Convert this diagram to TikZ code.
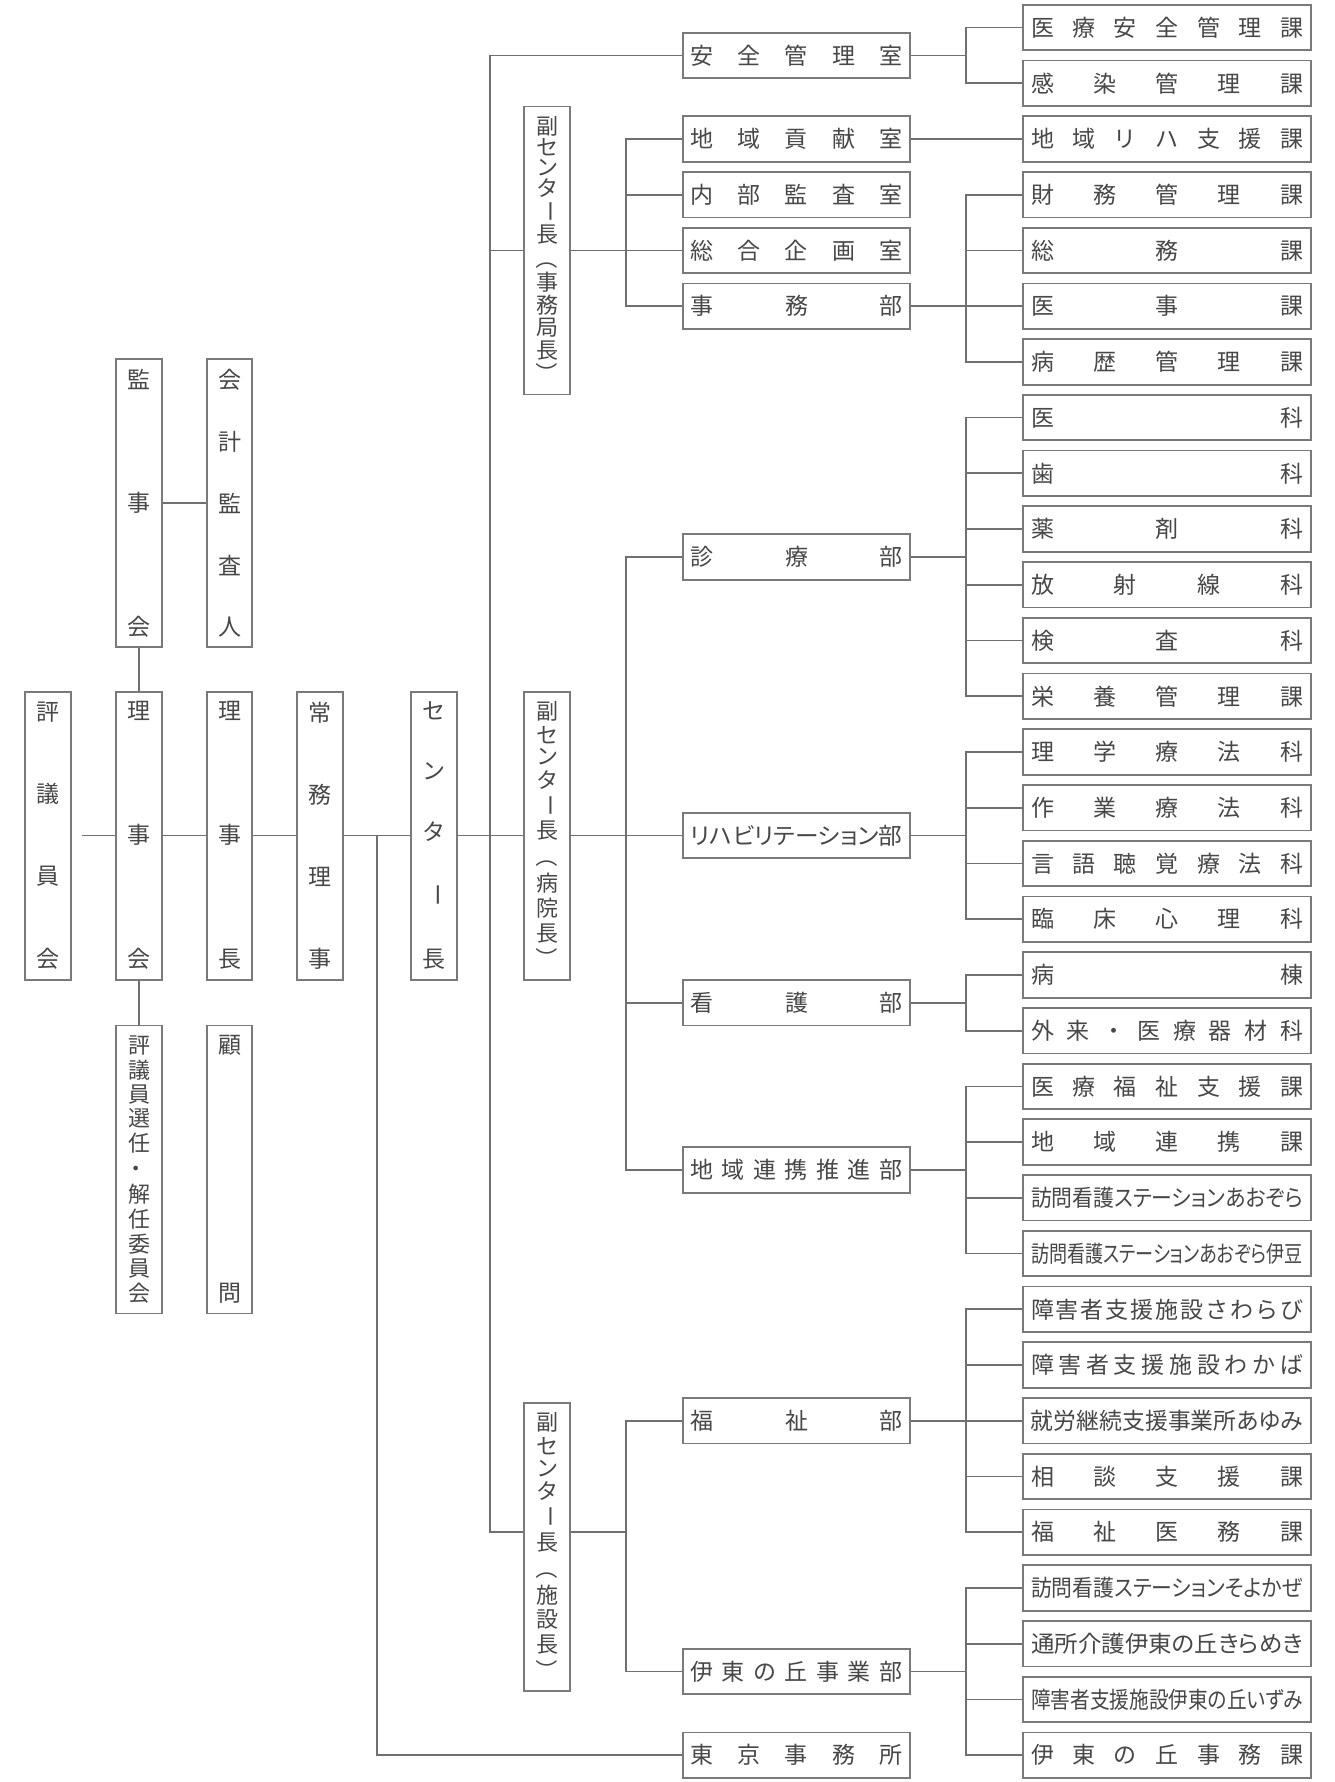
\documentclass[tikz,border=0pt]{standalone}
\usepackage{fontspec}
\usepackage{graphicx}
\setmainfont{Noto Sans CJK JP}
\definecolor{boxc}{HTML}{7A7A7A}
\definecolor{linec}{HTML}{707070}
\definecolor{txtc}{HTML}{474747}
\def\HSend{}
\def\VSend{}
\def\HSpr#1#2\HSend{#1\if\relax\detokenize{#2}\relax\else\hfill\HSpr#2\HSend\fi}
\def\VSpr#1#2\VSend{\hbox to 40pt{\hss#1\hss}\if\relax\detokenize{#2}\relax\else\vfill\VSpr#2\VSend\fi}
\newcommand\RS[1]{\makebox[272pt]{\HSpr#1\HSend}}
\newcommand\RC[1]{\resizebox{272pt}{\height}{\addfontfeatures{RawFeature=+palt}#1}}
\newcommand\MS[1]{\makebox[212pt]{\HSpr#1\HSend}}
\newcommand\MC[1]{\resizebox{212pt}{\height}{\addfontfeatures{RawFeature=+palt}#1}}
\newcommand\VS[1]{\vbox to 266pt{\offinterlineskip\VSpr#1\VSend}}
\newcommand\VB{\rotatebox[origin=c]{-90}{ー}}
\newcommand\VPL{\rotatebox[origin=c]{-90}{（}}
\newcommand\VPR{\rotatebox[origin=c]{-90}{）}}
\newcommand\VDot{\rotatebox[origin=c]{90}{・}}
\newcommand\grp[3]{\coordinate (j#1) at (966,#2); \draw[ln] (#1.east) -- (j#1); \foreach \k in {#3} {\draw[ln] (j#1) |- (r\k.west);}}
\tikzset{
  bx/.style={draw=boxc, line width=1.8pt, fill=white, inner sep=0pt, text=txtc, font=\fontsize{23pt}{27pt}\selectfont},
  rbx/.style={bx, minimum width=288pt, minimum height=45.5pt},
  mbx/.style={bx, minimum width=227pt, minimum height=45.5pt},
  vbx/.style={bx, minimum width=45.5pt, minimum height=288pt},
  vbxs/.style={vbx, font=\fontsize{22pt}{26pt}\selectfont},
  ln/.style={draw=linec, line width=1.7pt}
}
\begin{document}
\begin{tikzpicture}[x=1pt, y=-1pt]
\fill[white] (0,0) rectangle (1335,1782);
\useasboundingbox (0,0) rectangle (1335,1782);
% right column
\node[rbx] (r0) at (1167,27.5) {\RS{医療安全管理課}};
\node[rbx] (r1) at (1167,83.23) {\RS{感染管理課}};
\node[rbx] (r2) at (1167,138.96) {\RS{地域リハ支援課}};
\node[rbx] (r3) at (1167,194.69) {\RS{財務管理課}};
\node[rbx] (r4) at (1167,250.42) {\RS{総務課}};
\node[rbx] (r5) at (1167,306.15) {\RS{医事課}};
\node[rbx] (r6) at (1167,361.88) {\RS{病歴管理課}};
\node[rbx] (r7) at (1167,417.61) {\RS{医科}};
\node[rbx] (r8) at (1167,473.34) {\RS{歯科}};
\node[rbx] (r9) at (1167,529.07) {\RS{薬剤科}};
\node[rbx] (r10) at (1167,584.8) {\RS{放射線科}};
\node[rbx] (r11) at (1167,640.53) {\RS{検査科}};
\node[rbx] (r12) at (1167,696.26) {\RS{栄養管理課}};
\node[rbx] (r13) at (1167,751.99) {\RS{理学療法科}};
\node[rbx] (r14) at (1167,807.72) {\RS{作業療法科}};
\node[rbx] (r15) at (1167,863.45) {\RS{言語聴覚療法科}};
\node[rbx] (r16) at (1167,919.18) {\RS{臨床心理科}};
\node[rbx] (r17) at (1167,974.91) {\RS{病棟}};
\node[rbx] (r18) at (1167,1030.64) {\RS{外来・医療器材科}};
\node[rbx] (r19) at (1167,1086.37) {\RS{医療福祉支援課}};
\node[rbx] (r20) at (1167,1142.1) {\RS{地域連携課}};
\node[rbx] (r21) at (1167,1197.83) {\RC{訪問看護ステーションあおぞら}};
\node[rbx] (r22) at (1167,1253.56) {\RC{訪問看護ステーションあおぞら伊豆}};
\node[rbx] (r23) at (1167,1309.29) {\RS{障害者支援施設さわらび}};
\node[rbx] (r24) at (1167,1365.02) {\RS{障害者支援施設わかば}};
\node[rbx] (r25) at (1167,1420.75) {\RC{就労継続支援事業所あゆみ}};
\node[rbx] (r26) at (1167,1476.48) {\RS{相談支援課}};
\node[rbx] (r27) at (1167,1532.21) {\RS{福祉医務課}};
\node[rbx] (r28) at (1167,1587.94) {\RC{訪問看護ステーションそよかぜ}};
\node[rbx] (r29) at (1167,1643.67) {\RC{通所介護伊東の丘きらめき}};
\node[rbx] (r30) at (1167,1699.4) {\RC{障害者支援施設伊東の丘いずみ}};
\node[rbx] (r31) at (1167,1755.13) {\RS{伊東の丘事務課}};
% middle column
\node[mbx] (m0) at (796.5,55.4) {\MS{安全管理室}};
\node[mbx] (m1) at (796.5,138.96) {\MS{地域貢献室}};
\node[mbx] (m2) at (796.5,194.69) {\MS{内部監査室}};
\node[mbx] (m3) at (796.5,250.42) {\MS{総合企画室}};
\node[mbx] (m4) at (796.5,306.15) {\MS{事務部}};
\node[mbx] (m5) at (796.5,556.9) {\MS{診療部}};
\node[mbx] (m6) at (796.5,835.6) {\MC{リハビリテーション部}};
\node[mbx] (m7) at (796.5,1002.8) {\MS{看護部}};
\node[mbx] (m8) at (796.5,1170) {\MS{地域連携推進部}};
\node[mbx] (m9) at (796.5,1420.75) {\MS{福祉部}};
\node[mbx] (m10) at (796.5,1671.5) {\MS{伊東の丘事業部}};
\node[mbx] (m11) at (796.5,1755.13) {\MS{東京事務所}};
% vertical boxes
\node[vbx] (hyogi) at (48,835.6) {\VS{評議員会}};
\node[vbx] (kanji) at (139,503) {\VS{監事会}};
\node[vbx] (kaikei) at (229.5,503) {\VS{会計監査人}};
\node[vbx] (rijikai) at (139,835.6) {\VS{理事会}};
\node[vbx] (rijicho) at (229.5,835.6) {\VS{理事長}};
\node[vbxs] (senin) at (139,1169.5) {\VS{評議員選任\VDot 解任委員会}};
\node[vbx] (komon) at (229.5,1169.5) {\VS{顧問}};
\node[vbx] (jomu) at (320,835.6) {\VS{常務理事}};
\node[vbx] (cdir) at (434,835.6) {\VS{センタ\VB 長}};
\node[vbxs] (fA) at (547,250.42) {\VS{副センタ\VB 長\VPL 事務局長\VPR}};
\node[vbxs] (fB) at (547,835.6) {\VS{副センタ\VB 長\VPL 病院長\VPR}};
\node[vbxs] (fC) at (547,1547) {\VS{副センタ\VB 長\VPL 施設長\VPR}};
% left connectors
\coordinate (hg) at (82,835.6);
\draw[ln] (hg) -- (rijikai.west);
\draw[ln] (kanji.south) -- (rijikai.north);
\draw[ln] (rijikai.south) -- (senin.north);
\draw[ln] (kanji.east) -- (kaikei.west);
\draw[ln] (rijikai.east) -- (rijicho.west);
\draw[ln] (rijicho.east) -- (jomu.west);
\draw[ln] (jomu.east) -- (cdir.west);
\draw[ln] (cdir.east) -- (fB.west);
\coordinate (bt) at (377,835.6);
\draw[ln] (bt) |- (m11.west);
\coordinate (bm) at (490,1532.21);
\coordinate (bA) at (490,250.42);
\draw[ln] (m0.west) -| (bm) -- (fC.west |- bm);
\draw[ln] (bA) -- (fA.west);
% sub-centre buses
\coordinate (jA) at (626,250.42);
\draw[ln] (fA.east) -- (jA);
\foreach \k in {1,2,3,4} {\draw[ln] (jA) |- (m\k.west);}
\coordinate (jB) at (626,835.6);
\draw[ln] (fB.east) -- (jB);
\foreach \k in {5,6,7,8} {\draw[ln] (jB) |- (m\k.west);}
\coordinate (jC) at (626,1532.21);
\draw[ln] (fC.east |- jC) -- (jC);
\foreach \k in {9,10} {\draw[ln] (jC) |- (m\k.west);}
% right groups
\grp{m0}{55.4}{0,1}
\draw[ln] (m1.east) -- (r2.west);
\grp{m4}{306.15}{3,4,5,6}
\grp{m5}{556.9}{7,8,9,10,11,12}
\grp{m6}{835.6}{13,14,15,16}
\grp{m7}{1002.8}{17,18}
\grp{m8}{1170}{19,20,21,22}
\grp{m9}{1420.75}{23,24,25,26,27}
\grp{m10}{1671.5}{28,29,30,31}
\end{tikzpicture}
\end{document}
